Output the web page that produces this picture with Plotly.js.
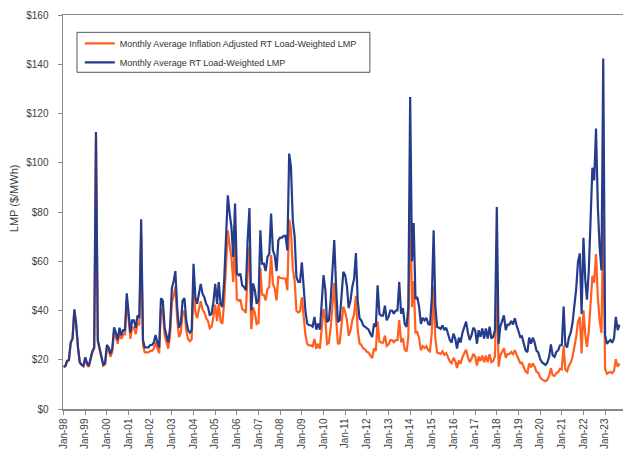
<!DOCTYPE html>
<html>
<head>
<meta charset="utf-8">
<script src="https://cdn.plot.ly/plotly-3.0.1.min.js"></script>
<style>
html,body{margin:0;padding:0;background:#fff;}
#chart{width:623px;height:452px;}
</style>
</head>
<body>
<div id="chart"></div>
<script>
// Monthly series, Jan-1998 onward
const startYear = 1998;
const rtLmp = [
// 1998
17.1,17.5,19.5,20.0,27.0,28.6,40.5,34.5,25.0,19.0,18.0,17.5,
// 1999
21.0,18.5,17.5,21.0,23.5,25.0,112.5,28.0,25.0,21.0,18.0,18.5,
// 2000
26.0,25.0,22.4,24.5,33.2,30.9,28.0,33.0,30.0,32.0,32.0,47.0,
// 2001
40.0,31.0,36.0,36.0,33.0,38.0,37.0,77.0,28.0,25.0,25.0,25.0,
// 2002
26.0,26.0,27.0,30.0,27.0,25.0,45.0,44.0,33.0,30.0,27.0,33.0,
// 2003
49.0,52.0,56.0,41.0,33.0,35.0,44.0,45.0,36.0,32.0,31.0,32.0,
// 2004
59.0,45.4,42.7,46.8,50.8,46.8,45.4,42.7,41.4,38.0,38.7,43.4,
// 2005
50.8,42.7,51.5,42.7,41.4,52.2,67.0,86.8,79.4,74.0,61.7,83.4,
// 2006
55.0,54.3,55.0,50.2,49.6,48.2,68.5,81.6,40.0,51.0,48.2,42.7,
// 2007
44.3,72.6,59.0,59.0,56.0,61.7,63.0,79.4,64.4,62.4,56.0,68.5,
// 2008
69.6,69.6,70.3,70.3,64.4,103.7,98.3,76.6,70.0,53.6,51.6,51.6,
// 2009
59.6,46.8,40.0,34.7,34.0,34.0,33.4,37.4,32.2,34.7,32.2,42.8,
// 2010
54.4,48.4,35.3,36.0,44.0,56.3,68.6,49.6,35.3,36.0,45.4,55.7,
// 2011
54.4,49.6,41.0,44.0,49.6,52.9,63.3,44.0,36.7,36.0,34.0,33.4,
// 2012
32.7,32.2,30.6,29.2,34.7,33.3,50.2,38.6,37.9,37.9,42.0,36.0,
// 2013
37.4,40.0,40.0,38.7,40.0,40.0,51.6,38.7,41.0,34.6,33.3,41.4,
// 2014
126.7,60.0,75.5,44.7,45.5,41.5,34.6,37.0,36.0,37.0,34.7,34.0,
// 2015
45.0,72.6,42.0,33.3,33.0,32.5,34.0,32.0,33.0,30.0,28.0,27.0,
// 2016
30.6,28.5,24.5,29.0,27.0,31.0,33.0,35.5,31.0,28.0,30.0,33.0,
// 2017
32.0,26.5,32.0,29.3,32.7,28.6,32.7,28.6,33.4,28.6,29.3,32.0,
// 2018
82.0,26.5,33.4,35.7,38.0,32.0,34.3,34.3,35.7,34.3,36.8,34.0,
// 2019
32.0,29.2,29.5,26.5,23.8,23.1,29.0,26.5,29.0,27.0,23.7,23.0,
// 2020
20.4,19.0,18.3,17.9,18.8,21.2,26.2,21.8,21.2,23.2,23.8,25.8,
// 2021
26.0,41.6,26.0,25.0,29.0,31.0,35.0,41.6,48.9,59.7,63.2,38.6,
// 2022
69.5,52.5,44.4,56.0,73.6,98.0,92.9,113.9,82.0,65.8,56.3,142.3,
// 2023
30.0,26.5,27.3,28.0,26.9,28.7,37.4,32.0,34.3
];
const rtLmpInflAdj = [
// 1998
17.1,17.4,19.4,19.9,26.9,28.4,40.2,34.3,24.8,18.9,17.9,17.4,
// 1999
20.5,18.1,17.1,20.5,23.0,24.5,110.0,27.4,24.5,20.5,17.6,18.1,
// 2000
24.6,23.7,21.2,23.2,31.4,29.2,26.5,31.2,28.4,30.3,30.3,44.5,
// 2001
36.8,28.5,33.1,33.1,30.4,35.0,34.0,70.8,25.8,23.0,23.0,23.0,
// 2002
23.6,23.6,24.5,27.2,24.5,22.7,40.8,39.9,29.9,27.2,24.5,29.9,
// 2003
43.4,46.1,49.6,36.3,29.2,31.0,39.0,39.9,31.9,28.4,27.5,28.4,
// 2004
50.9,39.2,36.9,40.4,43.8,40.4,39.2,36.9,35.7,32.8,33.4,37.5,
// 2005
42.4,35.7,43.0,35.7,34.6,43.6,55.9,72.5,66.3,61.8,51.5,69.6,
// 2006
44.5,43.9,44.5,40.6,40.1,39.0,55.4,66.0,32.4,41.3,39.0,34.5,
// 2007
34.9,57.1,46.4,46.4,44.1,48.6,49.6,62.5,50.7,49.1,44.1,53.9,
// 2008
53.2,53.1,53.2,52.9,48.2,76.9,72.6,56.8,52.0,40.0,39.2,39.7,
// 2009
45.3,35.6,30.4,26.4,25.8,25.8,25.4,28.4,24.5,26.4,24.5,32.5,
// 2010
40.6,36.2,26.4,26.9,32.9,42.1,51.2,37.1,26.4,26.9,33.9,41.6,
// 2011
39.4,36.0,29.7,31.9,36.0,38.4,45.9,31.9,26.6,26.1,24.7,24.2,
// 2012
23.2,22.9,21.7,20.7,24.6,23.6,35.6,27.4,26.9,26.9,29.8,25.6,
// 2013
26.2,28.0,28.0,27.1,28.0,28.0,36.1,27.1,28.7,24.2,23.3,29.0,
// 2014
87.3,41.3,52.0,30.8,31.3,28.6,23.8,25.5,24.8,25.5,23.9,23.4,
// 2015
31.0,49.9,28.9,22.9,22.7,22.4,23.4,22.0,22.7,20.6,19.3,18.6,
// 2016
20.8,19.4,16.7,19.7,18.4,21.1,22.4,24.1,21.1,19.0,20.4,22.4,
// 2017
21.3,17.6,21.3,19.5,21.7,19.0,21.7,19.0,22.2,19.0,19.5,21.3,
// 2018
53.2,17.2,21.7,23.2,24.7,20.8,22.3,22.3,23.2,22.3,23.9,22.1,
// 2019
20.4,18.6,18.8,16.9,15.2,14.7,18.5,16.9,18.5,17.2,15.1,14.7,
// 2020
12.9,12.0,11.5,11.3,11.8,13.4,16.5,13.7,13.4,14.6,15.0,16.3,
// 2021
16.1,25.7,16.0,15.3,17.7,18.8,21.1,25.0,29.3,35.5,37.4,22.6,
// 2022
40.2,30.1,25.2,31.5,41.1,54.1,51.3,62.9,45.1,36.0,30.9,78.3,
// 2023
16.3,14.3,14.7,15.1,14.5,15.5,20.2,17.2,18.4
];
const seriesNames = [
  'Monthly Average Inflation Adjusted RT Load-Weighted LMP',
  'Monthly Average RT Load-Weighted LMP'
];

// month dates
const dates = rtLmp.map((_, i) => {
  const y = startYear + Math.floor(i / 12);
  const m = (i % 12) + 1;
  return y + '-' + (m < 10 ? '0' + m : m) + '-01';
});

const traces = [
  {x: dates, y: rtLmpInflAdj, name: seriesNames[0], type: 'scatter', mode: 'lines',
   line: {color: '#FF5F1F', width: 2.2}},
  {x: dates, y: rtLmp, name: seriesNames[1], type: 'scatter', mode: 'lines',
   line: {color: '#253C8C', width: 2.2}}
];

const axisFont = {family: 'Liberation Sans, Arial, sans-serif', size: 10, color: '#404040'};

const layout = {
  width: 623, height: 452,
  margin: {l: 63, r: 0, t: 15, b: 43, pad: 0},
  paper_bgcolor: '#fff', plot_bgcolor: '#fff',
  showlegend: true,
  legend: {
    x: 0.030, y: 0.965, xanchor: 'left', yanchor: 'top',
    bgcolor: 'rgba(0,0,0,0)', borderwidth: 0,
    font: {family: 'Liberation Sans, Arial, sans-serif', size: 9, color: '#333'},
    tracegroupgap: 0
  },
  shapes: [{
    type: 'rect', xref: 'paper', yref: 'paper', layer: 'above',
    x0: 0.025, x1: 0.548, y0: 0.8546, y1: 0.956,
    line: {color: '#555', width: 1}, fillcolor: '#fff'
  }],
  xaxis: {
    type: 'date',
    range: ['1997-12-22', '2023-10-30'],
    tick0: '1998-01-01', dtick: 'M12', tickformat: '%b-%y',
    tickangle: -90,
    ticks: 'outside', ticklen: 4, tickcolor: '#888', tickwidth: 1,
    showline: true, linecolor: '#888', linewidth: 1.5, mirror: true,
    showgrid: false, zeroline: false,
    tickfont: axisFont
  },
  yaxis: {
    range: [0, 160], dtick: 20, tickprefix: '$',
    ticks: 'outside', ticklen: 4, tickcolor: '#888', tickwidth: 1,
    showline: true, linecolor: '#888', linewidth: 1.5,
    showgrid: false, zeroline: false,
    tickfont: axisFont,
    ticklabelstandoff: 7
  },
  annotations: [{
    text: 'LMP ($/MWh)', textangle: -90,
    xref: 'paper', yref: 'paper', x: -0.0875, y: 0.535,
    xanchor: 'center', yanchor: 'middle', showarrow: false,
    font: {family: 'Liberation Sans, Arial, sans-serif', size: 11, color: '#404040'}
  }]
};

Plotly.newPlot('chart', traces, layout, {displayModeBar: false, staticPlot: true});
</script>
</body>
</html>
